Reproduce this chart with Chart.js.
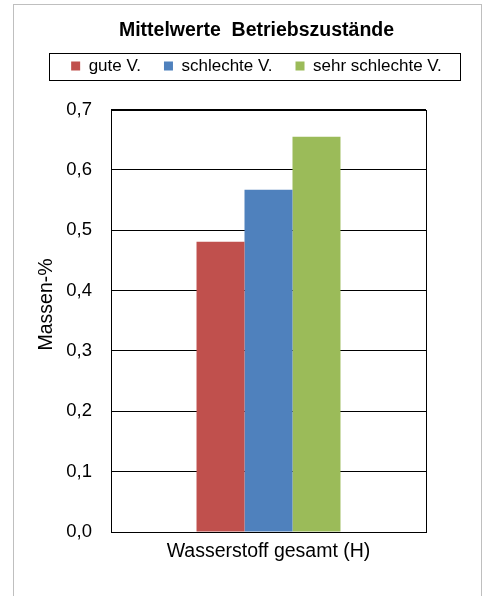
<!DOCTYPE html>
<html>
<head>
<meta charset="utf-8">
<script src="https://cdn.jsdelivr.net/npm/chart.js@4/dist/chart.umd.min.js"></script>
<style>
  html, body { margin: 0; padding: 0; background: #fff; }
  #frame { position: absolute; left: 13px; top: 4px; width: 467px; height: 620px;
           border: 1px solid #bfbfbf; }
  #wrap { position: absolute; left: 0; top: 0; width: 483px; height: 596px; }
</style>
</head>
<body>
<div id="frame"></div>
<div id="wrap"><canvas id="chart" width="483" height="596"></canvas></div>
<script>
const categories = ['Wasserstoff gesamt (H)'];
const seriesNames = ['gute V.', 'schlechte V.', 'sehr schlechte V.'];
const guteV = [0.481];
const schlechteV = [0.567];
const sehrSchlechteV = [0.655];
const seriesColors = ['#C0504D', '#4F81BD', '#9BBB59'];

const FONT = 'Liberation Sans, Arial, sans-serif';

// frame around plot area and legend box
const boxes = {
  id: 'boxes',
  afterDraw(chart) {
    const ctx = chart.ctx;
    const a = chart.chartArea;
    ctx.save();
    ctx.strokeStyle = '#000';
    ctx.lineWidth = 1;
    ctx.strokeRect(Math.round(a.left) + 0.5, Math.round(a.top) + 0.5,
      Math.round(a.right - a.left), Math.round(a.bottom - a.top));
    const hb = chart.legend.legendHitBoxes;
    if (hb && hb.length) {
      const first = hb[0], last = hb[hb.length - 1];
      const l = Math.round(first.left - 22), r = Math.round(last.left + last.width + 18);
      const t = Math.round(first.top + first.height / 2 - 13.5);
      ctx.strokeRect(l + 0.5, t + 0.5, r - l, 27);
    }
    ctx.restore();
  }
};

new Chart(document.getElementById('chart'), {
  type: 'bar',
  data: {
    labels: categories,
    datasets: [
      { label: seriesNames[0], data: guteV, backgroundColor: seriesColors[0] },
      { label: seriesNames[1], data: schlechteV, backgroundColor: seriesColors[1] },
      { label: seriesNames[2], data: sehrSchlechteV, backgroundColor: seriesColors[2] }
    ]
  },
  options: {
    responsive: false,
    animation: false,
    devicePixelRatio: 1,
    layout: { padding: { left: 35, right: 5, top: 0, bottom: 0 } },
    datasets: { bar: { categoryPercentage: 0.457, barPercentage: 1, borderWidth: 0 } },
    plugins: {
      title: {
        display: true,
        text: 'Mittelwerte  Betriebszustände',
        color: '#000',
        font: { family: FONT, size: 19.5, weight: 'bold', lineHeight: 0.385 },
        padding: { top: 27, bottom: 0 }
      },
      // empty spacer between legend and plot area
      subtitle: {
        display: true,
        text: '',
        weight: 500,
        font: { size: 1, lineHeight: 1 },
        padding: { top: 0, bottom: 24 }
      },
      legend: {
        labels: {
          color: '#000',
          font: { family: FONT, size: 17 },
          boxWidth: 9,
          boxHeight: 9,
          padding: 23
        }
      },
      tooltip: { enabled: false }
    },
    scales: {
      x: {
        grid: { display: false, drawTicks: false },
        border: { display: false },
        ticks: { color: '#000', font: { family: FONT, size: 19.5 }, padding: 7.5 },
        afterFit: s => { s.height = 64; }
      },
      y: {
        min: 0,
        max: 0.7,
        border: { display: false },
        grid: { color: '#000', drawTicks: false },
        ticks: {
          stepSize: 0.1,
          color: '#000',
          font: { family: FONT, size: 18.5 },
          padding: 19,
          callback: v => v.toFixed(1).replace('.', ',')
        },
        title: {
          display: true,
          text: '      Massen-%',
          color: '#000',
          font: { family: FONT, size: 19.5 },
          padding: 0
        },
        afterFit: s => { s.width = 76; }
      },
      y2: {
        position: 'right',
        display: true,
        grid: { display: false },
        border: { display: false },
        ticks: { display: false },
        afterFit: s => { s.width = 52; }
      }
    }
  },
  plugins: [boxes]
});
</script>
</body>
</html>
